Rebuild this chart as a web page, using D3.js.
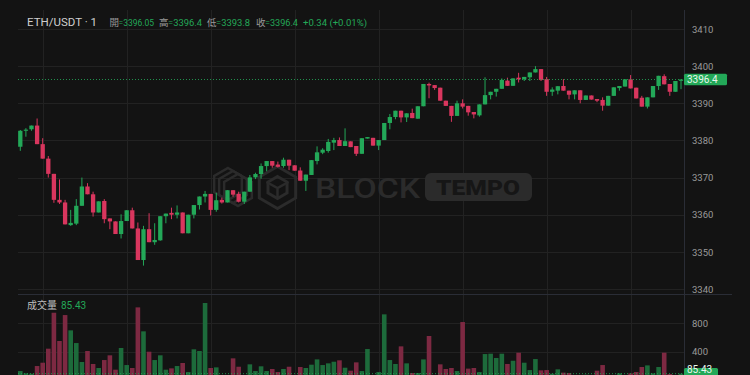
<!DOCTYPE html>
<html><head><meta charset="utf-8">
<script src="https://cdn.jsdelivr.net/npm/d3@7"></script>
<style>
html,body{margin:0;padding:0;background:#131313;}
svg{display:block;}
text{font-family:Roboto,"Noto Sans CJK TC","Noto Sans CJK SC",sans-serif;}
</style></head>
<body>
<svg id="c" width="750" height="375"></svg>
<script>
const opens = [3378.3,3382.6,3383.0,3384.0,3379.0,3375.1,3371.0,3364.0,3363.3,3357.2,3357.6,3362.4,3367.6,3365.5,3360.6,3363.7,3359.0,3358.2,3354.8,3358.3,3361.2,3356.3,3347.8,3356.1,3352.6,3353.1,3359.6,3360.5,3360.0,3360.6,3355.0,3360.0,3362.6,3364.9,3365.6,3361.3,3364.0,3363.3,3366.6,3365.6,3363.5,3366.2,3370.05,3370.95,3373.1,3374.45,3373.5,3373.1,3374.8,3373.3,3371.9,3369.15,3370.7,3374.45,3376.7,3377.15,3379.4,3380.1,3378.5,3379.75,3378.5,3376.4,3380.5,3380.7,3378.6,3380.1,3384.7,3386.3,3388.0,3386.2,3387.4,3385.85,3389.2,3395.2,3394.9,3394.2,3390.7,3389.3,3386.6,3390.0,3389.3,3387.65,3386.75,3389.7,3392.2,3393.1,3393.9,3396.1,3394.7,3396.9,3396.45,3397.0,3398.3,3399.2,3396.5,3393.1,3393.4,3394.65,3393.4,3392.4,3393.5,3390.9,3392.1,3391.15,3390.9,3389.36,3392.0,3394.1,3394.5,3396.45,3394.2,3391.5,3389.1,3391.6,3394.65,3397.3,3395.2,3393.1,3396.05];
const highs = [3382.8,3383.3,3384.0,3385.9,3380.6,3375.8,3371.0,3369.5,3364.0,3361.3,3364.2,3370.0,3368.5,3366.2,3363.6,3364.2,3359.0,3358.2,3360.1,3361.2,3361.9,3357.9,3357.0,3360.4,3357.7,3359.6,3360.3,3361.9,3362.5,3360.6,3360.0,3362.6,3364.9,3366.4,3365.6,3365.9,3364.6,3366.6,3366.6,3366.2,3366.2,3370.7,3371.3,3373.8,3374.45,3374.45,3374.3,3375.35,3374.8,3373.3,3372.75,3370.8,3374.7,3378.4,3377.9,3380.4,3380.7,3380.8,3383.25,3379.75,3378.5,3380.6,3380.9,3380.7,3380.1,3384.7,3387.1,3388.0,3388.0,3387.3,3388.55,3389.2,3395.2,3395.55,3394.9,3394.2,3390.7,3389.3,3390.7,3391.06,3389.3,3387.65,3389.7,3397.0,3393.1,3393.9,3396.7,3396.9,3396.7,3398.2,3397.1,3398.3,3400.0,3399.2,3397.1,3394.3,3394.6,3396.5,3393.4,3393.5,3393.5,3392.1,3392.1,3391.15,3391.6,3392.0,3394.3,3394.65,3396.45,3397.6,3394.2,3392.0,3391.6,3394.65,3397.4,3397.8,3395.2,3396.0,3396.4];
const lows = [3377.2,3381.0,3382.6,3379.0,3375.1,3370.0,3363.2,3362.9,3357.4,3357.0,3357.2,3362.4,3365.5,3359.5,3360.6,3357.7,3356.1,3354.8,3353.6,3358.3,3356.3,3347.8,3346.3,3352.6,3351.9,3353.0,3357.7,3358.8,3359.0,3355.0,3355.0,3359.0,3361.4,3363.3,3359.8,3360.8,3363.0,3363.3,3364.85,3363.3,3362.9,3366.2,3369.6,3369.7,3371.7,3372.65,3372.7,3372.65,3372.0,3371.85,3369.15,3366.4,3370.7,3373.55,3376.3,3376.7,3377.4,3378.5,3378.5,3378.2,3375.8,3376.4,3380.5,3378.6,3377.4,3380.1,3383.0,3385.7,3384.85,3384.95,3386.0,3385.85,3389.2,3391.35,3393.6,3390.7,3389.3,3385.0,3386.6,3388.6,3386.66,3385.94,3386.4,3389.7,3391.06,3391.8,3393.9,3394.7,3394.7,3395.6,3396.0,3396.0,3398.3,3396.0,3392.0,3392.0,3392.4,3393.4,3391.06,3391.06,3390.0,3390.9,3391.0,3390.3,3388.0,3389.36,3392.0,3393.4,3394.5,3394.0,3391.3,3389.1,3388.6,3391.6,3393.6,3395.1,3392.0,3393.1,3393.8];
const closes = [3382.6,3382.9,3384.0,3379.0,3375.1,3371.0,3364.0,3363.3,3357.4,3357.8,3362.4,3367.6,3365.5,3360.6,3363.6,3358.8,3358.2,3354.8,3358.3,3361.2,3356.3,3347.8,3356.1,3352.6,3353.2,3359.6,3360.3,3360.0,3360.6,3355.0,3360.0,3362.6,3364.9,3365.6,3361.3,3363.9,3363.3,3366.6,3365.4,3363.5,3366.2,3370.05,3370.95,3373.1,3374.45,3373.2,3372.9,3374.8,3373.2,3371.85,3369.15,3370.8,3374.7,3376.8,3377.5,3379.6,3380.1,3378.5,3379.8,3378.2,3376.4,3380.6,3380.9,3378.6,3380.1,3384.7,3386.3,3388.0,3386.2,3387.3,3386.0,3389.2,3395.2,3394.8,3394.1,3390.7,3389.3,3386.6,3390.0,3389.1,3387.56,3387.0,3389.7,3392.2,3393.1,3393.9,3396.3,3394.7,3396.7,3396.45,3397.1,3398.3,3399.2,3396.3,3393.1,3393.7,3394.6,3393.4,3392.3,3393.5,3390.9,3392.1,3391.0,3390.7,3389.36,3392.0,3394.3,3394.65,3396.45,3394.0,3391.3,3389.1,3391.6,3394.65,3397.4,3395.1,3393.1,3396.0,3396.4];
const volumes = [123,90,85,194,241,440,950,549,917,700,520,251,407,223,166,279,346,142,450,208,166,1026,686,397,279,346,142,161,194,237,109,431,407,1088,166,175,40,50,303,184,55,218,123,190,123,152,109,152,184,50,180,166,213,288,208,232,255,275,170,128,246,123,435,50,109,927,279,223,473,232,95,95,288,620,55,218,152,166,123,818,157,166,109,364,369,308,369,223,269,383,241,137,293,133,137,85,147,100,95,60,60,70,65,128,208,60,60,90,60,90,109,180,203,90,180,383,80,60,85.43];
const priceTicks = [3340,3350,3360,3370,3380,3390,3400,3410];
const volumeTicks = [400,800];
const timeGridIndex = [4,19,34,49,64,79,94,109];
const symbolTitle = "ETH/USDT · 1";
const ohlcLabels = ["開","高","低","收"];
const ohlcValues = ["=3396.05","=3396.4","=3393.8","=3396.4"];
const changeText = "+0.34 (+0.01%)";
const lastPrice = 3396.4;
const lastVolume = 85.43;

const UP = "#23a858", DOWN = "#d9365e";
const VUP = "#1d6b3b", VDOWN = "#7d2942";
const GRID = "#222222", AXISC = "#2a2d36", TXT = "#9a9a9a";

const svg = d3.select("#c");
svg.append("rect").attr("width",750).attr("height",375).attr("fill","#131313");

const PL = 18, PR = 684, PT = 10, SEP = 294;
const idx = d3.range(opens.length);
const x = d3.scaleLinear().domain([0, opens.length-1]).range([20.3, 681]);
const y = d3.scaleLinear().domain([3340,3410]).range([289,29]);
const yv = d3.scaleLinear().domain([0,800]).range([379.7,323.3]);

// grid
const g = svg.append("g");
g.selectAll(".hg").data(priceTicks).join("line")
  .attr("x1",PL).attr("x2",PR).attr("y1",d=>Math.round(y(d))+0.5).attr("y2",d=>Math.round(y(d))+0.5)
  .attr("stroke",GRID).attr("stroke-width",1);
g.selectAll(".vg").data(volumeTicks).join("line")
  .attr("x1",PL).attr("x2",PR).attr("y1",d=>Math.round(yv(d))+0.5).attr("y2",d=>Math.round(yv(d))+0.5)
  .attr("stroke",GRID).attr("stroke-width",1);
g.selectAll(".tg").data(timeGridIndex).join("line")
  .attr("x1",d=>Math.round(x(d))+0.5).attr("x2",d=>Math.round(x(d))+0.5).attr("y1",PT).attr("y2",375)
  .attr("stroke",GRID).attr("stroke-width",1);

// watermark
const wm = svg.append("g").attr("fill","none").attr("stroke","#2b2b2b").attr("stroke-width",3);
function hexPath(cx,cy,r){
  const pts = d3.range(6).map(k=>{const a=Math.PI/3*k - Math.PI/2; return [cx+r*Math.cos(a), cy+r*Math.sin(a)];});
  return "M"+pts.map(p=>p.join(",")).join("L")+"Z";
}
[[228,184],[233,187],[238,190]].forEach(([cx,cy])=>{
  wm.append("path").attr("d",hexPath(cx,cy,16)).attr("stroke-width",2.5);
});
wm.append("path").attr("d",hexPath(277.5,187.5,21));
wm.append("path").attr("d",hexPath(277.5,187.5,11));
wm.append("path").attr("d","M266.5,182L277.5,188L288.5,182M277.5,188V199").attr("stroke-width",2.5);
svg.append("text").attr("x",315).attr("y",198).attr("font-size",28).attr("font-weight",500)
  .attr("textLength",105).attr("lengthAdjust","spacingAndGlyphs").attr("fill","#2b2b2b").text("BLOCK");
svg.append("rect").attr("x",425).attr("y",173).attr("width",107).attr("height",28).attr("rx",6).attr("fill","#2b2b2b");
svg.append("text").attr("x",436).attr("y",194.5).attr("font-size",20).attr("font-weight",900)
  .attr("textLength",84).attr("lengthAdjust","spacingAndGlyphs").attr("fill","#161616").text("TEMPO");

// clip paths
svg.append("clipPath").attr("id","cp").append("rect").attr("x",PL).attr("y",PT).attr("width",PR-PL).attr("height",SEP-PT);
svg.append("clipPath").attr("id","cv").append("rect").attr("x",PL).attr("y",SEP).attr("width",PR-PL).attr("height",375-SEP);

// volume bars
const vg = svg.append("g").attr("clip-path","url(#cv)");
vg.selectAll("rect").data(idx).join("rect")
  .attr("x",i=>x(i)-2.3).attr("width",4.6)
  .attr("y",i=>yv(volumes[i])).attr("height",i=>yv(0)-yv(volumes[i]))
  .attr("fill",i=>closes[i]>=opens[i]?VUP:VDOWN);

// candles
const cg = svg.append("g").attr("clip-path","url(#cp)");
cg.selectAll("line").data(idx).join("line")
  .attr("x1",i=>x(i)).attr("x2",i=>x(i)).attr("y1",i=>y(highs[i])).attr("y2",i=>y(lows[i]))
  .attr("stroke",i=>closes[i]>=opens[i]?UP:DOWN).attr("stroke-width",1);
cg.selectAll("rect").data(idx).join("rect")
  .attr("x",i=>x(i)-2.15).attr("width",4.3)
  .attr("y",i=>y(Math.max(opens[i],closes[i])))
  .attr("height",i=>Math.max(1,Math.abs(y(opens[i])-y(closes[i]))))
  .attr("fill",i=>closes[i]>=opens[i]?UP:DOWN);

// last price dotted lines
svg.append("line").attr("x1",PL).attr("x2",PR).attr("y1",y(lastPrice)).attr("y2",y(lastPrice))
  .attr("stroke",UP).attr("stroke-width",1).attr("stroke-dasharray","1,2").attr("opacity",0.85);
svg.append("line").attr("x1",PL).attr("x2",PR).attr("y1",yv(lastVolume)).attr("y2",yv(lastVolume))
  .attr("stroke",UP).attr("stroke-width",1).attr("stroke-dasharray","1,2").attr("opacity",0.85);

// axis border + pane separator
svg.append("line").attr("x1",PR+0.5).attr("x2",PR+0.5).attr("y1",PT).attr("y2",375).attr("stroke",AXISC);
svg.append("line").attr("x1",PL).attr("x2",732).attr("y1",SEP+0.5).attr("y2",SEP+0.5).attr("stroke",AXISC);

// right axes
const ax = d3.axisRight(y).tickValues(priceTicks).tickSize(0).tickPadding(0).tickFormat(d3.format("d"));
const axG = svg.append("g").attr("transform",`translate(${692},0)`).call(ax);
axG.select(".domain").remove();
axG.selectAll("text").attr("fill",TXT).attr("font-size",9.5).attr("dy","0.34em").attr("x",0);
const axv = d3.axisRight(yv).tickValues(volumeTicks).tickSize(0).tickPadding(0).tickFormat(d3.format("d"));
const avG = svg.append("g").attr("transform",`translate(${692},0)`).call(axv);
avG.select(".domain").remove();
avG.selectAll("text").attr("fill",TXT).attr("font-size",9.5).attr("dy","0.34em").attr("x",0);
svg.selectAll(".tick text").attr("font-family",'Roboto,"Noto Sans CJK TC",sans-serif');

// last price label
svg.append("rect").attr("x",684).attr("y",y(lastPrice)-5.8).attr("width",43).attr("height",11.6).attr("rx",1.5).attr("fill",UP);
svg.append("text").attr("x",687).attr("y",y(lastPrice)).attr("dy","0.35em").attr("font-size",10).attr("fill","#e9f7ee").text(lastPrice.toFixed(1));
svg.append("rect").attr("x",684).attr("y",yv(lastVolume)-5.8).attr("width",34).attr("height",11.6).attr("rx",1.5).attr("fill",UP);
svg.append("text").attr("x",687).attr("y",Math.min(yv(lastVolume),369.5)).attr("dy","0.35em").attr("font-size",10).attr("fill","#e9f7ee").text(lastVolume.toFixed(2));

// header
svg.append("text").attr("x",27).attr("y",26).attr("font-size",11.5).attr("fill","#cfcfcf").text(symbolTitle);
const segX = [109.5,159,207,256];
const lab = [9,9,9,9];
const valW = [35.5,34,34,33];
ohlcLabels.forEach((l,k)=>{
  svg.append("text").attr("x",segX[k]).attr("y",25.5).attr("font-size",9.5).attr("fill",TXT).text(l);
  svg.append("text").attr("x",segX[k]+lab[k]).attr("y",25.5).attr("font-size",9.5).attr("fill",UP)
    .attr("textLength",valW[k]).attr("lengthAdjust","spacingAndGlyphs").text(ohlcValues[k]);
});
svg.append("text").attr("x",303).attr("y",25.5).attr("font-size",9.5).attr("fill",UP)
  .attr("textLength",64).attr("lengthAdjust","spacingAndGlyphs").text(changeText);

// volume legend
const vl = svg.append("text").attr("x",27).attr("y",309).attr("font-size",10);
vl.append("tspan").attr("fill","#bdbdbd").text("成交量");
vl.append("tspan").attr("dx",4).attr("fill",UP).text(lastVolume.toFixed(2));
</script>
</body></html>
